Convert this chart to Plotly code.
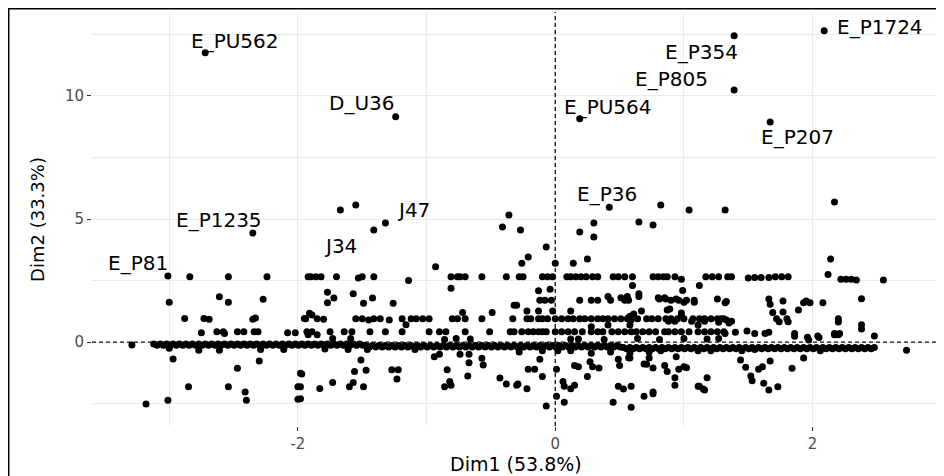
import plotly.graph_objects as go

# ---------------- data (Dim1, Dim2 coordinates) ----------------
label_names = ["E_PU562", "E_P1235", "E_P81", "D_U36", "J47", "J34",
               "E_PU564", "E_P354", "E_P805", "E_P207", "E_P1724", "E_P36"]
label_pt_x = [-2.72, -2.35, -3.01, -1.24, -1.32, -1.41, 0.19, 1.39, 1.39, 1.67, 2.09, 0.42]
label_pt_y = [11.75, 4.43, 2.68, 9.15, 4.84, 4.55, 9.07, 12.45, 10.24, 8.94, 12.65, 5.48]
label_txt_x = [-2.49, -2.61, -3.24, -1.50, -1.10, -1.67, 0.41, 1.14, 0.90, 1.88, 2.52, 0.40]
label_txt_y = [12.24, 4.96, 3.21, 9.72, 5.37, 3.90, 9.55, 11.79, 10.69, 8.33, 12.80, 6.02]

upper_x = [-1.67, -1.55, -0.36, -0.41, -0.27, -0.21, -0.07, 0.19, 0.82, 1.04, 1.32, 2.17,
           0.30, 0.30, 0.65, 0.76, -0.26, 0.00, 0.14, 0.25, -0.93, 2.14]
upper_y = [5.37, 5.57, 5.16, 4.68, 4.55, 3.46, 3.86, 4.47, 5.57, 5.37, 5.37, 5.69,
           4.84, 4.27, 4.88, 4.76, 3.20, 3.20, 3.20, 3.37, 3.06, 3.37]

rowA_x = [-2.84, -2.54, -2.24, -1.92, -1.90, -1.86, -1.82, -1.70, -1.53, -1.50, -1.41, -1.14,
          -0.81, -0.76, -0.74, -0.70, -0.57, -0.38, -0.28, -0.25, -0.10, -0.06, -0.02, 0.09,
          0.12, 0.16, 0.20, 0.24, 0.29, 0.33, 0.45, 0.49, 0.54, 0.60, 0.76, 0.80, 0.84, 0.87,
          0.93, 0.98, 1.17, 1.22, 1.27, 1.34, 1.37, 1.50, 1.55, 1.60, 1.66, 1.71, 1.76, 1.81,
          2.12, 2.22, 2.26, 2.30, 2.34, 2.55]
rowA_y = [2.65, 2.65, 2.65, 2.65, 2.65, 2.65, 2.65, 2.65, 2.60, 2.65, 2.65, 2.50,
          2.65, 2.65, 2.65, 2.65, 2.65, 2.65, 2.65, 2.65, 2.65, 2.65, 2.65, 2.65,
          2.65, 2.65, 2.65, 2.65, 2.65, 2.65, 2.65, 2.65, 2.65, 2.65, 2.65, 2.65, 2.65, 2.65,
          2.65, 2.55, 2.65, 2.65, 2.65, 2.65, 2.65, 2.60, 2.62, 2.62, 2.62, 2.65, 2.65, 2.65,
          2.75, 2.55, 2.55, 2.55, 2.52, 2.52]

rowB_x = [-3.00, -2.61, -2.54, -2.27, -1.77, -1.77, -1.72, -1.57, -1.49, -1.42, -1.26, -0.81,
          -0.32, -0.13, -0.04, -0.12, -0.08, -0.03, 0.19, 0.28, 0.33, 0.41, 0.43, 0.54, 0.56,
          0.65, 0.81, 0.86, 0.94, 1.00, 1.08, 0.99, 1.26, 1.33, 0.60, 1.12, 0.51, 0.57, 0.65,
          0.80, 0.85, 0.90, 0.96, 1.02, 1.08, 1.32, 1.66, 1.67, 1.77, 1.93, 1.98, 2.08, 2.38, 1.95]
rowB_y = [1.62, 1.84, 1.62, 1.74, 2.02, 1.60, 1.79, 1.96, 1.58, 1.79, 1.58, 2.19,
          1.50, 2.08, 2.15, 1.70, 1.70, 1.70, 1.70, 1.70, 1.70, 1.85, 1.70, 1.70, 1.85,
          1.96, 1.75, 1.75, 1.75, 1.62, 1.62, 2.10, 1.75, 1.65, 2.30, 2.30, 1.80, 1.70, 1.85,
          1.80, 1.80, 1.70, 1.70, 1.70, 1.70, 1.60, 1.75, 1.54, 1.67, 1.60, 1.60, 1.60, 1.76, 1.67]

rowC_x = [-2.88, -2.73, -2.69, -2.35, -2.33, -1.95, -1.91, -1.94, -1.89, -1.85, -1.80, -1.55,
          -1.50, -1.45, -1.41, -1.36, -1.29, -1.19, -1.16, -1.12, -1.08, -1.03, -0.98, -0.80,
          -0.76, -0.72, -0.70, -0.57, -0.49, -0.33, -0.30, -0.22, -0.13, -0.02, 0.12, 0.58,
          0.67, 0.87, 0.98, -0.22, -0.19, -0.13, -0.10, -0.06, 0.00, 0.05, 0.10, 0.14, 0.28,
          0.37, 0.41, 0.56, 0.59, 0.64, 0.71, 0.86, 0.90, 0.95, 1.00, 1.07, 1.12, 1.16, 1.21,
          1.26, 1.31, 0.28, 0.41, 0.58, 0.61, 0.57, 0.89, 0.98, 0.88, 0.93, 1.06, 1.11, 1.16,
          1.27, 1.35, 1.69, 1.77, 1.89, 1.29, 1.33, 1.37, 1.72, 1.80, 1.74, 1.81, 2.20, 2.38,
          2.20, 2.38, 0.19, 0.23, 0.33, 0.46, 0.51, 0.75, 0.80]
rowC_y = [0.96, 0.96, 0.93, 0.93, 0.98, 0.96, 1.17, 0.95, 1.10, 0.95, 0.93, 0.95,
          0.95, 0.90, 0.95, 0.95, 0.90, 0.95, 0.70, 0.95, 0.95, 0.95, 0.95, 0.95,
          0.95, 1.20, 0.95, 0.95, 1.20, 0.95, 1.50, 1.26, 1.26, 1.26, 1.26, 1.05,
          1.26, 1.30, 1.10, 0.95, 0.95, 0.95, 0.95, 0.95, 0.95, 0.95, 0.95, 0.95, 0.95,
          0.95, 0.95, 0.95, 0.90, 0.95, 0.95, 0.95, 0.95, 0.95, 0.95, 0.95, 0.95, 0.95, 0.95,
          0.95, 0.95, 0.62, 0.69, 0.69, 1.14, 0.99, 1.34, 1.18, 0.85, 0.85, 0.85, 0.69, 0.85,
          0.81, 0.77, 1.20, 1.22, 1.30, 0.95, 0.90, 0.85, 0.95, 0.95, 0.83, 0.83, 0.95, 0.70,
          0.82, 0.53, 0.95, 0.95, 0.95, 0.95, 0.95, 0.95, 0.95]

rowD_x = [-2.75, -2.63, -2.58, -2.57, -2.47, -2.42, -2.34, -2.31, -2.08, -2.02, -1.92, -1.93,
          -1.89, -1.85, -1.75, -1.64, -1.58, -1.44, -1.32, -1.19, -0.98, -0.90, -0.85, -0.70,
          -0.51, -0.35, -1.73, -1.59, -0.86, -0.77, -0.66, -0.32, -0.26, -0.21, -0.17, -0.13,
          -0.10, -0.07, 0.05, 0.10, 0.15, 0.21, 0.28, 0.37, 0.49, 0.54, 0.59, 0.63, 0.68,
          0.73, 0.78, 0.93, 0.98, 1.11, 1.16, 1.21, 1.26, 1.31, 0.12, 0.18, 0.38, 0.64, 0.81,
          1.00, 1.18, 1.27, 1.32, 1.40, 1.49, 1.55, 1.63, 1.66, 1.86, 1.96, 2.04, 2.17, 2.21,
          2.48, 1.86, 1.97, 2.05, 2.17, 2.20, 0.00, 0.33, 0.44, 0.85, 0.88, 1.04]
rowD_y = [0.38, 0.42, 0.42, 0.35, 0.42, 0.42, 0.42, 0.42, 0.38, 0.38, 0.30, 0.42,
          0.42, 0.30, 0.42, 0.42, 0.42, 0.42, 0.42, 0.42, 0.42, 0.42, 0.42, 0.42,
          0.42, 0.42, 0.15, 0.15, 0.10, 0.15, 0.12, 0.42, 0.42, 0.42, 0.42, 0.42,
          0.42, 0.42, 0.42, 0.42, 0.42, 0.42, 0.42, 0.42, 0.42, 0.42, 0.42, 0.42, 0.42,
          0.42, 0.42, 0.42, 0.42, 0.42, 0.42, 0.42, 0.42, 0.42, 0.12, 0.12, 0.10, 0.15, 0.10,
          0.15, 0.12, 0.15, 0.35, 0.40, 0.45, 0.35, 0.35, 0.40, 0.35, 0.20, 0.25, 0.35, 0.35,
          0.25, 0.24, 0.08, 0.19, 0.30, 0.30, 0.42, 0.42, 0.42, 0.42, 0.42, 0.42]

rowE_x = [-3.29, -3.00, -2.77, -2.61, -2.29, -2.11, -2.97, -2.30, -2.47, -1.98, -2.85, -2.54,
          -2.41, -2.00, -3.18, -3.01, -2.40, -2.00, -1.79, -1.61, -1.46, -1.09, -0.94, -0.90,
          -0.74, -0.67, -0.57, -0.67, -0.56, -1.51, -1.47, -1.56, -1.27, -1.22, -1.23, -0.84,
          -0.68, -0.43, -1.97, -1.98, -1.83, -1.73, -1.60, -1.57, -1.49, -0.86, -0.81, -0.82,
          -0.38, -0.29, -1.98, -0.28, -0.10, 0.02, 0.12, 0.28, 0.43, 0.58, 0.73, 0.82, 1.11,
          1.21, -0.12, 0.49, 0.58, 0.73, 0.94, -0.21, -0.16, 0.01, 0.15, 0.18, 0.27, 0.29,
          0.34, 0.50, 0.71, 0.76, 0.85, 0.87, 0.96, 1.00, -0.10, 0.25, 0.93, 1.18, -0.30,
          0.06, 0.07, 0.15, 0.49, 0.59, 0.93, 1.11, 1.16, -0.22, 0.12, 0.01, 0.69, 0.76, -0.07,
          0.07, 0.45, 0.59, 0.53, 0.69, 0.57, 1.02, 1.15, 1.12, 0.76, 1.45, 1.55, 2.06, 2.73,
          1.44, 1.48, 1.52, 1.53, 1.58, 1.61, 1.67, 1.62, 1.66, 1.73, 1.84, 1.93]
rowE_y = [-0.12, -0.25, -0.33, -0.33, -0.30, -0.30, -0.69, -0.77, -1.06, -1.27, -1.82, -1.82,
          -2.03, -1.82, -2.52, -2.36, -2.36, -2.32, -0.28, -0.30, -0.30, -0.30, -0.60, -0.49,
          -0.50, -0.50, -0.66, -0.84, -0.93, -0.73, -1.14, -1.20, -1.12, -1.12, -1.50, -1.12,
          -1.38, -1.46, -1.30, -1.82, -1.89, -1.64, -1.82, -1.64, -1.82, -1.82, -1.75, -1.60,
          -1.70, -1.70, -2.30, -0.40, -0.35, -0.35, -0.35, -0.45, -0.40, -0.45, -0.40, -0.35, -0.35,
          -0.35, -0.70, -0.70, -0.65, -0.65, -0.60, -1.10, -1.10, -1.10, -0.95, -1.00, -0.80, -1.00,
          -1.05, -0.95, -0.90, -1.05, -0.95, -1.20, -1.10, -1.00, -1.40, -1.40, -1.45, -1.45, -1.75,
          -1.60, -1.80, -1.75, -1.80, -1.80, -1.75, -1.80, -1.95, -1.90, -1.90, -2.20, -2.20, -2.10, -2.60,
          -2.45, -2.45, -2.65, -1.91, -0.89, -0.64, -1.04, -1.91, -1.79, -2.03, -0.35, -0.30, -0.35, -0.33,
          -0.73, -1.02, -1.38, -1.57, -1.10, -1.00, -0.77, -1.67, -1.95, -1.82, -1.06, -0.65]

# dense band of points just below Dim2 = 0 (two staggered rows per segment)
band_left_x = [-3.12, -3.07, -3.02, -2.97, -2.92, -2.87, -2.82, -2.77, -2.72, -2.67, -2.62,
               -2.57, -2.52, -2.47, -2.42, -2.37, -2.32, -2.27, -2.22, -2.17, -2.12, -2.07,
               -2.02, -1.97, -1.92, -1.87, -1.82, -1.77, -1.72, -1.67, -1.62, -1.57, -1.52]
band_left2_x = [-3.095, -3.045, -2.995, -2.945, -2.895, -2.845, -2.795, -2.745, -2.695, -2.645,
                -2.595, -2.545, -2.495, -2.445, -2.395, -2.345, -2.295, -2.245, -2.195, -2.145,
                -2.095, -2.045, -1.995, -1.945, -1.895, -1.845, -1.795, -1.745, -1.695, -1.645,
                -1.595, -1.545, -1.495]
band_left_y = [-0.08, -0.13]
band_mid_x = [-1.47, -1.42, -1.37, -1.32, -1.27, -1.22, -1.17, -1.12, -1.07, -1.02, -0.97,
              -0.92, -0.87, -0.82, -0.77, -0.72, -0.67, -0.62, -0.57, -0.52, -0.47, -0.42,
              -0.37, -0.32, -0.27, -0.22, -0.17, -0.12, -0.07, -0.02, 0.03, 0.08, 0.13,
              0.18, 0.23, 0.28, 0.33, 0.38, 0.43, 0.48]
band_mid2_x = [-1.445, -1.395, -1.345, -1.295, -1.245, -1.195, -1.145, -1.095, -1.045, -0.995,
               -0.945, -0.895, -0.845, -0.795, -0.745, -0.695, -0.645, -0.595, -0.545, -0.495,
               -0.445, -0.395, -0.345, -0.295, -0.245, -0.195, -0.145, -0.095, -0.045, 0.005,
               0.055, 0.105, 0.155, 0.205, 0.255, 0.305, 0.355, 0.405, 0.455, 0.505]
band_mid_y = [-0.14, -0.20]
band_right_x = [0.53, 0.58, 0.63, 0.68, 0.73, 0.78, 0.83, 0.88, 0.93, 0.98, 1.03, 1.08,
                1.13, 1.18, 1.23, 1.28, 1.33, 1.38, 1.43, 1.48, 1.53, 1.58, 1.63, 1.68,
                1.73, 1.78, 1.83, 1.88, 1.93, 1.98, 2.03, 2.08, 2.13, 2.18, 2.23, 2.28,
                2.33, 2.38, 2.43, 2.48]
band_right2_x = [0.555, 0.605, 0.655, 0.705, 0.755, 0.805, 0.855, 0.905, 0.955, 1.005, 1.055,
                 1.105, 1.155, 1.205, 1.255, 1.305, 1.355, 1.405, 1.455, 1.505, 1.555, 1.605,
                 1.655, 1.705, 1.755, 1.805, 1.855, 1.905, 1.955, 2.005, 2.055, 2.105, 2.155,
                 2.205, 2.255, 2.305, 2.355, 2.405, 2.455]
band_right_y = [-0.22, -0.27]

x_ticks = [-2, 0, 2]
y_ticks = [0, 5, 10]
x_title = "Dim1 (53.8%)"
y_title = "Dim2 (33.3%)"

# ---------------- figure ----------------
band_x = band_left_x + band_left2_x + band_mid_x + band_mid2_x + band_right_x + band_right2_x
band_y = ([band_left_y[0]] * len(band_left_x) + [band_left_y[1]] * len(band_left2_x)
          + [band_mid_y[0]] * len(band_mid_x) + [band_mid_y[1]] * len(band_mid2_x)
          + [band_right_y[0]] * len(band_right_x) + [band_right_y[1]] * len(band_right2_x))

all_x = label_pt_x + upper_x + rowA_x + rowB_x + rowC_x + rowD_x + rowE_x + band_x
all_y = label_pt_y + upper_y + rowA_y + rowB_y + rowC_y + rowD_y + rowE_y + band_y

fig = go.Figure()
fig.add_trace(go.Scatter(x=all_x, y=all_y, mode="markers",
                         marker=dict(color="black", size=7, line=dict(width=0)),
                         hoverinfo="skip", showlegend=False))

for name, tx, ty in zip(label_names, label_txt_x, label_txt_y):
    fig.add_annotation(x=tx, y=ty, text=name, showarrow=False,
                       xanchor="center", yanchor="middle",
                       font=dict(family="DejaVu Sans", size=20, color="black"))

grid_major = "#EBEBEB"
axis_common = dict(showline=False, zeroline=False, ticks="outside", ticklen=4,
                   tickwidth=1, tickcolor="#333333",
                   tickfont=dict(family="DejaVu Sans", size=15, color="#4D4D4D"),
                   showgrid=True, gridcolor=grid_major, gridwidth=1.2)

fig.update_xaxes(range=[-3.60, 2.99], tickvals=x_ticks,
                 ticktext=[str(v) for v in x_ticks],
                 minor=dict(tickvals=[-3, -1, 1, 3], showgrid=True,
                            gridcolor=grid_major, gridwidth=0.6, ticks=""),
                 **axis_common)
fig.update_yaxes(range=[-3.41, 13.41], tickvals=y_ticks,
                 ticktext=[str(v) for v in y_ticks],
                 minor=dict(tickvals=[-2.5, 2.5, 7.5, 12.5], showgrid=True,
                            gridcolor=grid_major, gridwidth=0.6, ticks=""),
                 **axis_common)

# reference dashed lines at 0
fig.add_shape(type="line", xref="x", yref="paper", x0=0, x1=0, y0=0, y1=1,
              line=dict(color="#111111", width=1.3, dash="4px,3px"), layer="above")
fig.add_shape(type="line", xref="paper", yref="y", x0=0, x1=1, y0=0, y1=0,
              line=dict(color="#111111", width=1.3, dash="4px,3px"), layer="above")

# outer border of the picture
fig.add_shape(type="rect", xref="paper", yref="paper",
              x0=-0.0982, x1=1.01, y0=-0.14, y1=1.008,
              line=dict(color="black", width=1.5), fillcolor="rgba(0,0,0,0)")

# axis titles
fig.add_annotation(xref="paper", yref="paper", x=0.5, y=-0.092, text=x_title,
                   showarrow=False, xanchor="center", yanchor="middle",
                   font=dict(family="DejaVu Sans", size=19, color="black"))
fig.add_annotation(xref="paper", yref="paper", x=-0.065, y=0.5, text=y_title,
                   textangle=-90, showarrow=False, xanchor="center", yanchor="middle",
                   font=dict(family="DejaVu Sans", size=18, color="black"))

fig.update_layout(width=936, height=468,
                  margin=dict(l=84, r=4, t=4, b=50),
                  paper_bgcolor="white", plot_bgcolor="white",
                  showlegend=False)

fig.write_html("out.html")
